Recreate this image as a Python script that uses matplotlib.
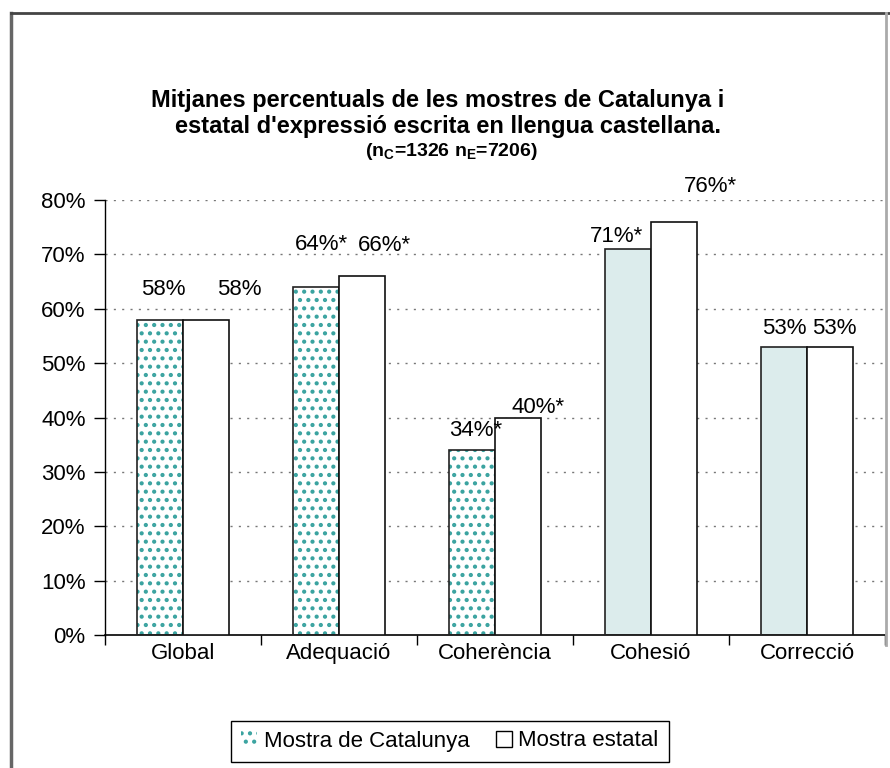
import matplotlib
matplotlib.use('Agg')
import matplotlib.pyplot as plt
from matplotlib.patches import Patch
from matplotlib.lines import Line2D
import numpy as np

plt.rcParams['font.family'] = ['Liberation Sans', 'DejaVu Sans']
plt.rcParams['mathtext.fontset'] = 'custom'
plt.rcParams['mathtext.rm'] = 'Liberation Sans'
plt.rcParams['mathtext.bf'] = 'Liberation Sans:bold'
plt.rcParams['hatch.linewidth'] = 1.8

# data
categories = ['Global', 'Adequació', 'Coherència', 'Cohesió', 'Correcció']
catalunya = [58, 64, 34, 71, 53]
estatal = [58, 66, 40, 76, 53]
labels_cat = ['58%', '64%*', '34%*', '71%*', '53%']
labels_est = ['58%', '66%*', '40%*', '76%*', '53%']
# Catalunya bars drawn dotted (True) or plain light fill (False)
cat_dotted = [True, True, True, False, False]

# label offsets in pixels (dx, dy) from bar top, as placed in the original
off_cat = [(3, 30), (5, 42), (4, 20), (-11, 12), (0, 18)]
off_est = [(33, 30), (22, 31), (20, 10), (36, 35), (4, 18)]

teal = '#3aa3a0'
light = '#dcecec'

fig = plt.figure(figsize=(8.9, 7.68), dpi=100)
ax = fig.add_axes([105/890, 1-635/768, 780/890, 435/768])

x = np.arange(len(categories))
w = 0.295

for i in range(len(categories)):
    xc = x[i] - w/2
    if cat_dotted[i]:
        ax.bar(xc, catalunya[i], w, color='white', edgecolor=teal, hatch='..', linewidth=0, zorder=2)
    else:
        ax.bar(xc, catalunya[i], w, color=light, linewidth=0, zorder=2)
    ax.bar(xc, catalunya[i], w, fill=False, edgecolor='#222222', linewidth=1.2, zorder=3)
ax.bar(x + w/2, estatal, w, color='white', edgecolor='#111111', linewidth=1.2, zorder=3)

for i in range(len(categories)):
    ax.annotate(labels_cat[i], (x[i] - w/2, catalunya[i]), xytext=off_cat[i],
                textcoords='offset pixels', ha='center', va='center', fontsize=16)
    ax.annotate(labels_est[i], (x[i] + w/2, estatal[i]), xytext=off_est[i],
                textcoords='offset pixels', ha='center', va='center', fontsize=16)

ax.set_xlim(-0.5, len(categories) - 0.5)
ax.set_ylim(0, 80)
ax.set_yticks(range(0, 81, 10))
ax.set_yticklabels([f'{v}%' for v in range(0, 81, 10)], fontsize=16)
ax.set_xticks(x)
ax.set_xticklabels(categories, fontsize=16)
ax.set_xticks(np.arange(len(categories) + 1) - 0.5, minor=True)
ax.tick_params(axis='x', which='major', length=0, pad=6)
ax.tick_params(axis='x', which='minor', length=7, width=1, direction='out')
ax.tick_params(axis='y', length=8, width=1, direction='out', pad=6)

for v in range(10, 81, 10):
    ax.axhline(v, color='#777777', linestyle=(0, (1.5, 4.5)), linewidth=1, zorder=1)

for s in ['top', 'right']:
    ax.spines[s].set_visible(False)
ax.spines['left'].set_linewidth(1)
ax.spines['bottom'].set_linewidth(1.2)

fig.text(438/890, 1-101/768, 'Mitjanes percentuals de les mostres de Catalunya i',
         ha='center', va='center', fontsize=17, fontweight='bold')
fig.text(448/890, 1-127/768, "estatal d'expressió escrita en llengua castellana.",
         ha='center', va='center', fontsize=17, fontweight='bold')
fig.text(451/890, 1-152/768, r'(n$_\mathbf{C}$=1326 n$_\mathbf{E}$=7206)',
         ha='center', va='center', fontsize=14, fontweight='bold')

handles = [Patch(facecolor='white', edgecolor=teal, hatch='..', linewidth=0),
           Patch(facecolor='white', edgecolor='black', linewidth=1)]
fig.legend(handles, ['Mostra de Catalunya', 'Mostra estatal'], loc='center',
           bbox_to_anchor=(450/890, 1-741/768), ncol=2, fontsize=16,
           frameon=True, fancybox=False, edgecolor='black', framealpha=1,
           handlelength=0.7, handleheight=0.7, handletextpad=0.3, columnspacing=1.2,
           borderpad=0.45)

# outer border of the chart
fig.add_artist(Line2D([11/890, 11/890], [0, 1-13/768], color='#666666', linewidth=2.5))
fig.add_artist(Line2D([11/890, 1], [1-13/768, 1-13/768], color='#444444', linewidth=2))
fig.add_artist(Line2D([886/890, 886/890], [1-13/768, 1-645/768], color='#aaaaaa', linewidth=2))

fig.savefig('out.png', dpi=100)
